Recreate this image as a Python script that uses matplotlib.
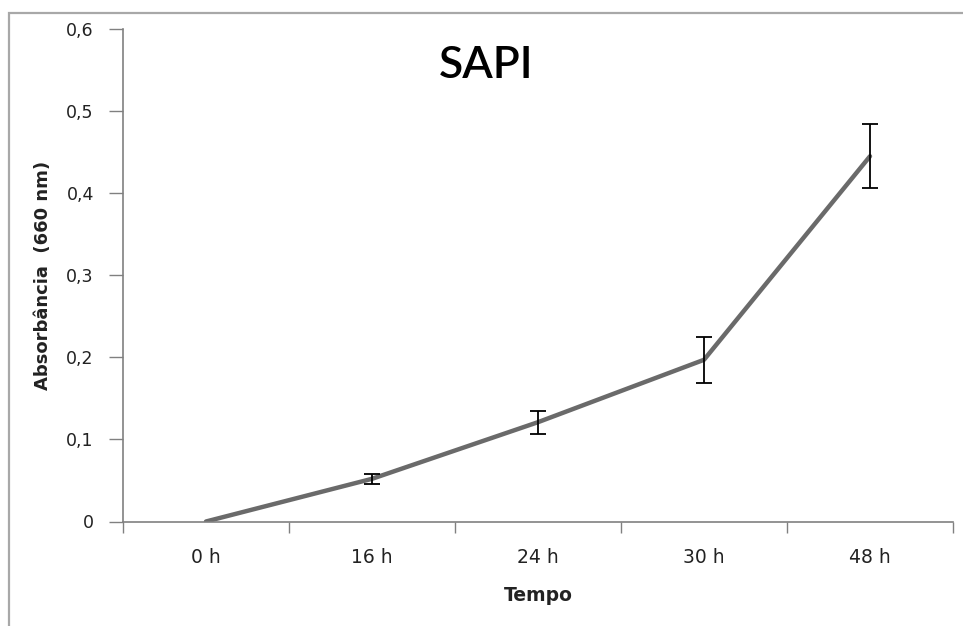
import matplotlib
matplotlib.use("Agg")
import matplotlib.pyplot as plt
from matplotlib.patches import Rectangle
import numpy as np

categories = ["0 h", "16 h", "24 h", "30 h", "48 h"]
values = [0.0, 0.052, 0.121, 0.197, 0.445]
errors = [0.0, 0.006, 0.014, 0.028, 0.039]
yticks = [0, 0.1, 0.2, 0.3, 0.4, 0.5, 0.6]
ytick_labels = ["0", "0,1", "0,2", "0,3", "0,4", "0,5", "0,6"]

plt.rcParams['font.family'] = ['DejaVu Sans']

fig = plt.figure(figsize=(9.63, 6.26), dpi=100)
fig.patch.set_facecolor("white")
# outer frame
fig.patches.append(Rectangle((9/963, -0.05), 1.1, (626-13)/626 + 0.05,
                             transform=fig.transFigure, fill=False,
                             edgecolor="#a8a8a8", linewidth=1.6))

ax = fig.add_axes([123/963, (626-521.5)/626, (953-123)/963, 492.5/626])
x = np.arange(len(categories))
ax.plot(x, values, color="#6a6a6a", linewidth=3.2, solid_capstyle="round", zorder=2)
ax.errorbar(x[1:], values[1:], yerr=errors[1:], fmt="none", ecolor="black",
            elinewidth=1.3, capsize=5.5, capthick=1.3, zorder=3)

ax.set_xlim(-0.5, len(categories) - 0.5)
ax.set_ylim(0, 0.6)
ax.set_yticks(yticks)
ax.set_yticklabels(ytick_labels, fontsize=12.5, color="#222222")
ax.set_xticks(np.arange(-0.5, len(categories), 1.0))
ax.set_xticklabels([])
ax.set_xticks(x, minor=True)
ax.set_xticklabels(categories, minor=True, fontsize=13.5, color="#222222")
ax.tick_params(axis="x", which="minor", length=0, pad=19)
ax.tick_params(axis="x", which="major", length=8, width=1, color="#808080", direction="out")
ax.tick_params(axis="y", length=10, width=1, color="#808080", direction="out", pad=11)

for s in ["top", "right"]:
    ax.spines[s].set_visible(False)
for s in ["left", "bottom"]:
    ax.spines[s].set_color("#808080")
    ax.spines[s].set_linewidth(1.2)

ax.set_ylabel("Absorbância  (660 nm)", fontsize=13, fontweight="bold", color="#222222", labelpad=10)
ax.set_xlabel("Tempo", fontsize=13.5, fontweight="bold", color="#222222", labelpad=14)
fig.text(486/963, 1 - 66/626, "SAPI", fontsize=32, fontweight="semibold",
         family=["Lato", "DejaVu Sans"], ha="center", va="center", color="black")

fig.savefig("out.png", dpi=100)
